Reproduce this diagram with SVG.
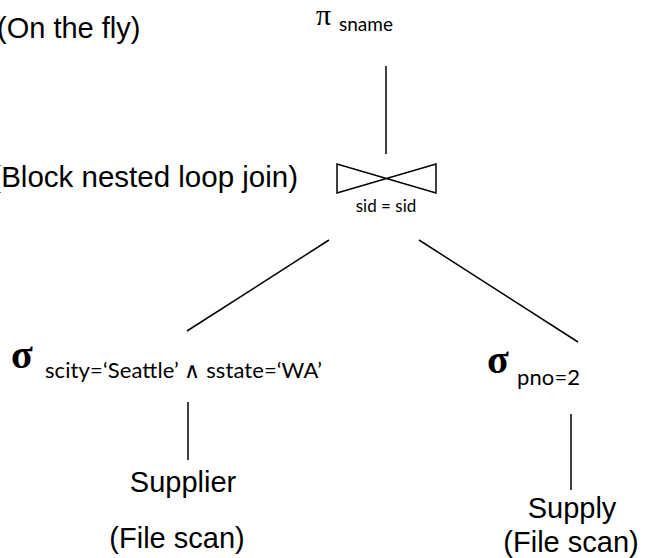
<svg xmlns="http://www.w3.org/2000/svg" width="649" height="558" viewBox="0 0 649 558">
<style>
.lbl{font-family:"Liberation Sans",Arial,sans-serif;font-size:29px;fill:#000}
.greek{font-family:"Liberation Serif","Times New Roman",serif;font-size:40px;font-weight:bold;fill:#000}
.pi{font-family:"Liberation Serif","Times New Roman",serif;font-size:30px;font-weight:normal;fill:#000}
.sub{font-family:Lato,"Open Sans",sans-serif;font-size:22px;fill:#000}
.edge{stroke:#000;stroke-width:1.5;fill:none}
</style>
<rect width="649" height="558" fill="#fff"/>
<g id="connectors">
<line class="edge" x1="386" y1="66" x2="386" y2="154"/>
<line class="edge" x1="329" y1="240" x2="187" y2="331"/>
<line class="edge" x1="419" y1="240" x2="578" y2="342"/>
<line class="edge" x1="188" y1="402" x2="188" y2="460"/>
<line class="edge" x1="571" y1="414" x2="571" y2="490"/>
</g>
<g id="project">
<text class="pi" x="316" y="25">π</text>
<text class="sub" x="339" y="31" style="font-size:19px">sname</text>
<text class="lbl" x="-3" y="38">(On the fly)</text>
</g>
<g id="join">
<path class="edge" d="M337,164 L337,193 L436,164 L436,193 Z" stroke-width="2" stroke-linejoin="miter"/>
<text class="sub" x="386" y="212" style="font-size:17px" text-anchor="middle">sid = sid</text>
<text class="lbl" x="298" y="187" style="font-size:29.5px" text-anchor="end">(Block nested loop join)</text>
</g>
<g id="select-supplier">
<text class="greek" x="11" y="368">σ</text>
<text class="sub" x="45" y="378" textLength="277">scity=‘Seattle’ ∧ sstate=‘WA’</text>
</g>
<g id="select-supply">
<text class="greek" x="487" y="373">σ</text>
<text class="sub" x="517" y="385" textLength="63">pno=2</text>
</g>
<g id="supplier">
<text class="lbl" x="183" y="492" text-anchor="middle">Supplier</text>
<text class="lbl" x="177" y="548" text-anchor="middle">(File scan)</text>
</g>
<g id="supply">
<text class="lbl" x="572" y="518" text-anchor="middle">Supply</text>
<text class="lbl" x="571" y="552" text-anchor="middle">(File scan)</text>
</g>
</svg>
